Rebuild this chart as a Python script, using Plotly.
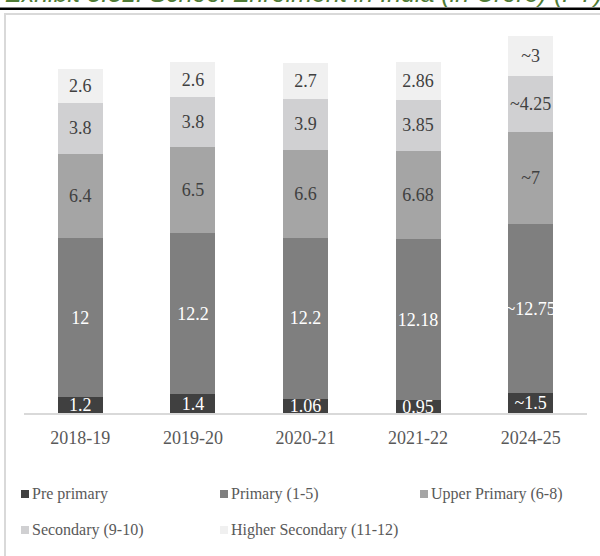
import plotly.graph_objects as go

# School enrolment by level (in crore), stacked per year
years = ["2018-19", "2019-20", "2020-21", "2021-22", "2024-25"]
pre_primary = [1.2, 1.4, 1.06, 0.95, 1.5]
primary = [12, 12.2, 12.2, 12.18, 12.75]
upper_primary = [6.4, 6.5, 6.6, 6.68, 7]
secondary = [3.8, 3.8, 3.9, 3.85, 4.25]
higher_secondary = [2.6, 2.6, 2.7, 2.86, 3]
approximate = [False, False, False, False, True]  # 2024-25 figures are estimates

series_names = ["Pre primary", "Primary (1-5)", "Upper Primary (6-8)",
                "Secondary (9-10)", "Higher Secondary (11-12)"]
series_values = [pre_primary, primary, upper_primary, secondary, higher_secondary]
series_colors = ["#404040", "#7f7f7f", "#a5a5a5", "#d0d0d2", "#f0f0f0"]
label_colors = ["#ffffff", "#ffffff", "#404040", "#404040", "#404040"]

W, H = 600, 556
M_L, M_R, M_T, M_B = 24, 13, 16, 143
PW, PH = W - M_L - M_R, H - M_T - M_B
FONT = "Liberation Serif"


def px_x(px):
    return (px - M_L) / PW


def px_y(py):
    return (H - M_B - py) / PH


def fmt(v, approx):
    return ("~" if approx else "") + f"{v:g}"


fig = go.Figure()
for name, vals, col, tcol in zip(series_names, series_values, series_colors, label_colors):
    label_font = dict(family=FONT, size=18, color=tcol)
    fig.add_trace(go.Bar(
        x=years, y=vals, name=name,
        marker=dict(color=col, line=dict(width=0)),
        text=[fmt(v, a) for v, a in zip(vals, approximate)],
        textposition="inside", insidetextanchor="middle",
        textangle=0, constraintext="none",
        textfont=label_font, insidetextfont=label_font,
        cliponaxis=True, showlegend=False,
    ))

shapes = [
    # rule under the heading
    dict(type="line", xref="paper", yref="paper", x0=px_x(0), x1=px_x(W),
         y0=px_y(8.8), y1=px_y(8.8), line=dict(color="#000000", width=2.5)),
    # panel frame (top and left edges)
    dict(type="line", xref="paper", yref="paper", x0=px_x(4), x1=px_x(W),
         y0=px_y(14), y1=px_y(14), line=dict(color="#d9d9d9", width=2)),
    dict(type="line", xref="paper", yref="paper", x0=px_x(5), x1=px_x(5),
         y0=px_y(14), y1=px_y(H), line=dict(color="#d9d9d9", width=2)),
]

annotations = [
    dict(text="<i>Exhibit 3.31: School Enrolment in India (in Crore) (FY)</i>",
         xref="paper", yref="paper", x=px_x(3), y=px_y(-7.5),
         xanchor="left", yanchor="middle", showarrow=False,
         font=dict(family="Liberation Sans", size=25, color="#4f7b35")),
]

# legend laid out in two rows below the axis
legend_pos = [(21, 494), (220, 494), (420, 494), (21, 530), (220, 530)]
for (lx, ly), name, col in zip(legend_pos, series_names, series_colors):
    shapes.append(dict(type="rect", xref="paper", yref="paper",
                       x0=px_x(lx), x1=px_x(lx + 8), y0=px_y(ly + 4), y1=px_y(ly - 4),
                       fillcolor=col, line=dict(width=0)))
    annotations.append(dict(text=name, xref="paper", yref="paper",
                            x=px_x(lx + 9), y=px_y(ly), xanchor="left", yanchor="middle",
                            showarrow=False,
                            font=dict(family=FONT, size=16, color="#595959")))

fig.update_layout(
    width=W, height=H,
    margin=dict(l=M_L, r=M_R, t=M_T, b=M_B, pad=0),
    barmode="stack", bargap=0.6,
    paper_bgcolor="#ffffff", plot_bgcolor="#ffffff",
    uniformtext=dict(minsize=18, mode="show"),
    xaxis=dict(showline=True, linecolor="#d9d9d9", linewidth=2, ticks="",
               showgrid=False, tickfont=dict(family=FONT, size=18, color="#595959"),
               ticklabelstandoff=7),
    yaxis=dict(range=[0, 30], visible=False, showgrid=False),
    shapes=shapes, annotations=annotations,
)

fig.write_html("out.html")
